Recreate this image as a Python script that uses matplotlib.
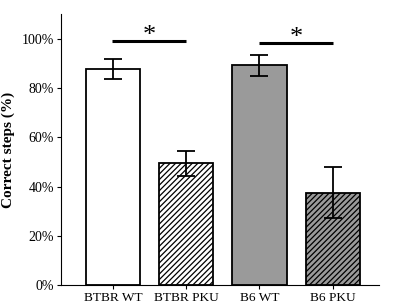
import matplotlib
matplotlib.use("Agg")
import matplotlib.pyplot as plt
from matplotlib.ticker import FuncFormatter

groups = ["BTBR WT", "BTBR PKU", "B6 WT", "B6 PKU"]
means = [87.7, 49.5, 89.2, 37.6]
errs = [4.2, 5.2, 4.1, 10.4]
colors = ["white", "white", "#9a9a9a", "#9a9a9a"]
hatches = ["", "//////", "", "//////"]
# significance pairs: (i, j, height)
sig = [(0, 1, 99.0), (2, 3, 98.3)]

plt.rcParams["font.family"] = ["Liberation Serif", "DejaVu Serif"]
plt.rcParams["hatch.linewidth"] = 0.9

fig = plt.figure(figsize=(4.03, 3.06), dpi=100, facecolor="white")
ax = fig.add_axes([0.151, 0.067, 0.789, 0.887])

x = list(range(len(groups)))
for i in x:
    ax.bar(i, means[i], width=0.74, color=colors[i], edgecolor="black",
           linewidth=1.3, hatch=hatches[i], zorder=2)
ax.errorbar(x, means, yerr=errs, fmt="none", ecolor="black",
            elinewidth=1.3, capsize=6.5, capthick=1.3, zorder=3)

for i, j, h in sig:
    ax.plot([i - 0.01, j], [h, h], color="black", linewidth=2.2,
            solid_capstyle="butt")
    ax.text((i + j) / 2, h + 2.0, "*", ha="center", va="center",
            fontsize=19)

ax.set_xlim(-0.71, 3.63)
ax.set_ylim(0, 110)
ax.set_yticks([0, 20, 40, 60, 80, 100])
ax.yaxis.set_major_formatter(FuncFormatter(lambda v, p: f"{int(v)}%"))
ax.set_xticks(x)
ax.set_xticklabels(groups)
ax.tick_params(axis="y", labelsize=10, length=3, width=0.8, pad=2)
ax.tick_params(axis="x", labelsize=9.6, length=3, width=0.8, pad=2)
ax.set_ylabel("Correct steps (%)", fontsize=11, fontweight="bold", labelpad=5)

ax.spines["top"].set_visible(False)
ax.spines["right"].set_visible(False)
ax.spines["left"].set_linewidth(0.8)
ax.spines["bottom"].set_linewidth(0.8)

fig.savefig("out.png", dpi=100, facecolor="white")
